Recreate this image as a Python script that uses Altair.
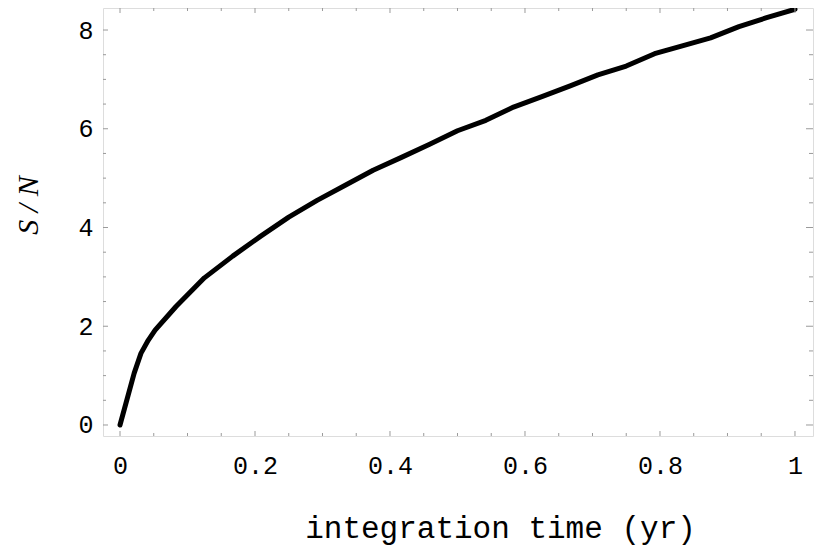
import altair as alt
import pandas as pd

# integration time (yr) and S/N
t_vals = [0.0, 0.021, 0.031, 0.042, 0.052, 0.083, 0.125, 0.167, 0.208, 0.25,
          0.292, 0.333, 0.375, 0.417, 0.458, 0.5, 0.542, 0.583, 0.625, 0.667,
          0.708, 0.75, 0.792, 0.833, 0.875, 0.917, 0.958, 1.0]
sn_vals = [0.0, 1.05, 1.45, 1.72, 1.92, 2.40, 2.98, 3.42, 3.82, 4.21,
           4.55, 4.85, 5.16, 5.42, 5.68, 5.96, 6.17, 6.44, 6.65, 6.87,
           7.09, 7.27, 7.52, 7.68, 7.84, 8.07, 8.25, 8.42]

x_major = [0, 0.2, 0.4, 0.6, 0.8, 1.0]
x_minor = [0.05, 0.1, 0.15, 0.25, 0.3, 0.35, 0.45, 0.5, 0.55, 0.65, 0.7, 0.75, 0.85, 0.9, 0.95]
y_major = [0, 2, 4, 6, 8]
y_minor = [0.5, 1, 1.5, 2.5, 3, 3.5, 4.5, 5, 5.5, 6.5, 7, 7.5]

W, H = 710, 428
x_dom = [-0.0252, 1.0267]
y_dom = [-0.223, 8.446]
xs = alt.Scale(domain=x_dom, nice=False, zero=False)
ys = alt.Scale(domain=y_dom, nice=False, zero=False)
TICK = "#9a9a9a"

x_axis = alt.Axis(
    values=x_major, format="~g", ticks=False, tickSize=0, domain=False, grid=False,
    labelFont="Liberation Mono", labelFontSize=25, labelColor="black", labelPadding=17,
    title="integration time (yr)", titleFont="Liberation Mono", titleFontSize=31,
    titleFontWeight="normal", titleColor="black", titleX=397, titleY=101,
    titleBaseline="alphabetic", titleAlign="center")
y_axis = alt.Axis(
    values=y_major, format="~g", ticks=False, tickSize=0, domain=False, grid=False,
    labelFont="Liberation Mono", labelFontSize=25, labelColor="black", labelPadding=10,
    labelBaseline="middle",
    title="S / N", titleFont="Liberation Serif", titleFontSize=30, titleFontStyle="italic",
    titleFontWeight="normal", titleColor="black", titleAngle=270, titleX=-75, titleY=197,
    titleBaseline="middle", titleAlign="center")

line_df = pd.DataFrame({"t": t_vals, "sn": sn_vals})

line = alt.Chart(line_df).mark_line(color="black", strokeWidth=5, strokeCap="round", strokeJoin="round").encode(
    x=alt.X("t:Q", scale=xs, axis=x_axis),
    y=alt.Y("sn:Q", scale=ys, axis=y_axis),
)

def ytick(vals, x1, x2):
    return alt.Chart(pd.DataFrame({"v": vals})).mark_rule(color=TICK, strokeWidth=1).encode(
        y=alt.Y("v:Q", scale=ys, axis=y_axis), x=alt.value(x1), x2=alt.value(x2))

def xtick(vals, y1, y2):
    return alt.Chart(pd.DataFrame({"v": vals})).mark_rule(color=TICK, strokeWidth=1).encode(
        x=alt.X("v:Q", scale=xs, axis=x_axis), y=alt.value(y1), y2=alt.value(y2))

ticks = [
    ytick(y_major, 0, 5), ytick(y_minor, 0, 3),
    ytick(y_major, W - 7, W), ytick(y_minor, W - 4, W),
    xtick(x_major, H, H - 5), xtick(x_minor, H, H - 3),
    xtick(x_major, 0, 5), xtick(x_minor, 0, 3),
]

chart = alt.layer(line, *ticks).properties(
    width=W, height=H,
    autosize=alt.AutoSizeParams(type="none"),
    padding={"left": 95, "top": 0, "right": 10, "bottom": 110},
).configure_view(stroke="#a8a8a8", strokeWidth=1.2).configure(background="white")

chart.save("out.html", embed_options={"renderer": "svg", "actions": False})
